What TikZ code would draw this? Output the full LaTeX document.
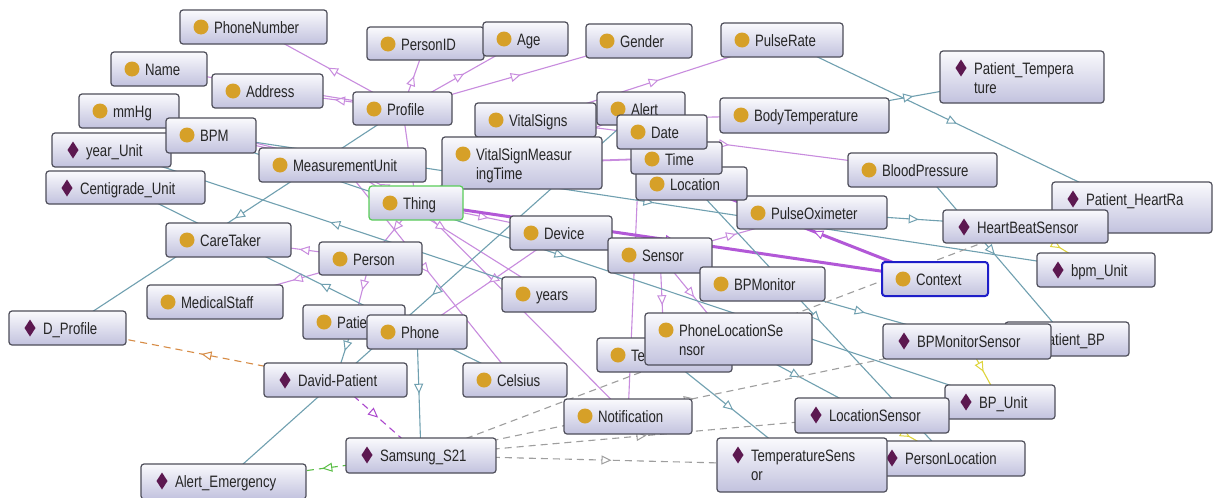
\documentclass[tikz,border=0pt]{standalone}
\usepackage{fontspec}
\setmainfont{Liberation Sans}[FakeStretch=0.8]
\usetikzlibrary{arrows.meta,decorations.markings,calc}

\definecolor{subcls}{RGB}{200,140,222}
\definecolor{indiv}{RGB}{112,160,176}
\definecolor{objprop}{RGB}{158,158,158}
\definecolor{boldedge}{RGB}{178,88,215}
\definecolor{clsdot}{RGB}{214,160,40}
\definecolor{inddot}{RGB}{92,24,80}
\definecolor{boxtop}{RGB}{250,250,253}
\definecolor{boxbot}{RGB}{194,194,222}
\definecolor{boxline}{RGB}{78,78,90}
\definecolor{propgreen}{RGB}{90,190,70}
\definecolor{proporange}{RGB}{215,140,70}
\definecolor{proppurple}{RGB}{170,70,205}
\definecolor{propyellow}{RGB}{222,212,60}
\definecolor{selblue}{RGB}{30,30,200}
\definecolor{thinggreen}{RGB}{90,205,90}

\pgfdeclarelayer{paper}
\pgfdeclarelayer{edges}
\pgfsetlayers{paper,edges,main}

% class box: [extra style] name, x1, y1, x2, y2, first line, second line
\newcommand\ogclass[8][]{%
  \node[ogbox,#1, minimum width={#5-#3}, minimum height={#6-#4}] (#2) at ({(#3+#5)/2},{(#4+#6)/2}) {};
  \fill[clsdot] ($(#2.north west)+(21,17)$) circle[radius=7.5pt];
  \node[lbl] at ($(#2.north west)+(34,23)$) {#7};
  \node[lbl] at ($(#2.north west)+(34,42)$) {#8};
}
% individual box: same arguments, diamond icon
\newcommand\ogindiv[8][]{%
  \node[ogbox,#1, minimum width={#5-#3}, minimum height={#6-#4}] (#2) at ({(#3+#5)/2},{(#4+#6)/2}) {};
  \fill[inddot] ($(#2.north west)+(21,17)$) ++(0,-8.5) -- ++(5.5,8.5) -- ++(-5.5,8.5) -- ++(-5.5,-8.5) -- cycle;
  \node[lbl] at ($(#2.north west)+(34,23)$) {#7};
  \node[lbl] at ($(#2.north west)+(34,42)$) {#8};
}
% connector between node centres, drawn behind the boxes
\newcommand\ogedge[3][isa]{\draw[#1] (#2.center) -- (#3.center);}

\begin{document}
\begin{tikzpicture}[x=1pt,y=-1pt,
  ogbox/.style={rectangle, rounded corners=3pt, draw=boxline, line width=1.2pt,
    top color=boxtop, bottom color=boxbot, inner sep=0pt, outer sep=0pt},
  lbl/.style={anchor=base west, inner sep=0pt, outer sep=0pt, text=black!85,
    font=\fontsize{16.5}{19}\selectfont},
  midarrow/.style={postaction={decorate}, decoration={markings,
    mark=at position 0.5 with {\pgfsetdash{}{0pt}\arrow{Triangle[length=10pt,width=9pt,fill=white,line width=1pt]}}}},
  isa/.style={draw=subcls, line width=1.1pt, midarrow},
  inst/.style={draw=indiv, line width=1.1pt, midarrow},
  prop/.style={draw=objprop, line width=1.1pt, dash pattern=on 7pt off 5pt, midarrow},
  boldisa/.style={draw=boldedge, line width=3pt, midarrow},
]
\useasboundingbox (0,0) rectangle (1213,498);
\begin{pgfonlayer}{paper}
  \fill[white] (0,0) rectangle (1213,498);
\end{pgfonlayer}

% ---- boxes, back to front ----
\ogclass{PhoneNumber}{180}{10}{327}{44}{PhoneNumber}{}
\ogclass{Name}{111}{52}{207}{86}{Name}{}
\ogclass{Address}{212}{74}{323}{108}{Address}{}
\ogclass{mmHg}{79}{94}{179}{128}{mmHg}{}
\ogindiv{yearUnit}{52}{133}{171}{167}{year\_Unit}{}
\ogclass{BPM}{166}{118}{256}{153}{BPM}{}
\ogclass{PersonID}{367}{27}{484}{60}{PersonID}{}
\ogclass{Age}{483}{22}{568}{56}{Age}{}
\ogclass{Profile}{353}{92}{452}{125}{Profile}{}
\ogclass{Gender}{586}{24}{692}{58}{Gender}{}
\ogclass{PulseRate}{721}{23}{843}{57}{PulseRate}{}
\ogindiv{PatientTemperature}{940}{51}{1104}{103}{Patient\_Tempera}{ture}
\ogclass{VitalSigns}{475}{103}{596}{137}{VitalSigns}{}
\ogclass{Alert}{597}{92}{685}{125}{Alert}{}
\ogclass{BodyTemperature}{720}{98}{889}{133}{BodyTemperature}{}
\ogclass{PulseOximeter}{737}{196}{887}{229}{PulseOximeter}{}
\ogclass{Location}{636}{167}{747}{200}{Location}{}
\ogclass{Time}{631}{142}{722}{174}{Time}{}
\ogclass{Date}{617}{115}{707}{149}{Date}{}
\ogclass{VSMT}{442}{137}{602}{189}{VitalSignMeasur}{ingTime}
\ogclass{BloodPressure}{848}{153}{997}{187}{BloodPressure}{}
\ogindiv{PatientHeartRate}{1052}{182}{1212}{233}{Patient\_HeartRa}{}
\ogindiv{HeartBeatSensor}{943}{210}{1108}{243}{HeartBeatSensor}{}
\ogindiv{CentigradeUnit}{46}{171}{205}{204}{Centigrade\_Unit}{}
\ogclass{MeasurementUnit}{259}{148}{426}{182}{MeasurementUnit}{}
\ogclass[draw=thinggreen]{Thing}{369}{186}{463}{220}{Thing}{}
\ogclass{Device}{510}{216}{612}{250}{Device}{}
\ogclass{Sensor}{608}{238}{712}{273}{Sensor}{}
\ogclass{BPMonitor}{700}{267}{825}{301}{BPMonitor}{}
\ogclass[draw=selblue,line width=2pt]{Context}{882}{262}{988}{296}{Context}{}
\ogindiv{bpmUnit}{1037}{253}{1155}{287}{bpm\_Unit}{}
\ogclass{CareTaker}{166}{223}{291}{257}{CareTaker}{}
\ogclass{Person}{319}{242}{422}{275}{Person}{}
\ogclass{MedicalStaff}{147}{285}{283}{319}{MedicalStaff}{}
\ogclass{years}{502}{277}{596}{312}{years}{}
\ogindiv{DProfile}{9}{311}{126}{345}{D\_Profile}{}
\ogclass{Patient}{303}{305}{405}{339}{Patient}{}
\ogclass{Phone}{367}{315}{467}{349}{Phone}{}
\ogclass{TempSensorCls}{597}{338}{732}{372}{Te}{}
\ogclass{PhoneLocSensor}{645}{313}{812}{365}{PhoneLocationSe}{nsor}
\ogindiv{PatientBP}{1005}{322}{1129}{356}{Patient\_BP}{}
\ogindiv{BPMonitorSensor}{883}{324}{1051}{359}{BPMonitorSensor}{}
\ogclass{Celsius}{463}{363}{567}{397}{Celsius}{}
\ogindiv{DavidPatient}{264}{363}{407}{397}{David-Patient}{}
\ogclass{Notification}{564}{399}{692}{434}{Notification}{}
\ogindiv{BPUnit}{945}{385}{1055}{419}{BP\_Unit}{}
\ogindiv{LocationSensor}{795}{398}{949}{433}{LocationSensor}{}
\ogindiv{PersonLocation}{871}{441}{1025}{476}{PersonLocation}{}
\ogindiv{TempSensorInd}{717}{438}{887}{492}{TemperatureSens}{or}
\ogindiv{Samsung}{346}{438}{496}{473}{Samsung\_S21}{}
\ogindiv{AlertEmergency}{141}{464}{306}{499}{Alert\_Emergency}{}

% ---- connectors ----
\begin{pgfonlayer}{edges}
  % subclass links
  \ogedge{Profile}{PhoneNumber}
  \ogedge{Profile}{Address}
  \ogedge{Profile}{Name}
  \ogedge{Profile}{PersonID}
  \ogedge{Profile}{Age}
  \ogedge{Profile}{Gender}
  \ogedge{VitalSigns}{PulseRate}
  \ogedge{VitalSigns}{BodyTemperature}
  \ogedge{VitalSigns}{BloodPressure}
  \ogedge{Thing}{Profile}
  \ogedge{Thing}{MeasurementUnit}
  \ogedge{Thing}{VitalSigns}
  \ogedge{Thing}{VSMT}
  \ogedge{Thing}{Alert}
  \ogedge{Thing}{Person}
  \ogedge{Thing}{Device}
  \ogedge{Thing}{Notification}
  \ogedge{MeasurementUnit}{BPM}
  \ogedge{MeasurementUnit}{mmHg}
  \ogedge{MeasurementUnit}{years}
  \ogedge{MeasurementUnit}{Celsius}
  \ogedge{Person}{CareTaker}
  \ogedge{Person}{MedicalStaff}
  \ogedge{Person}{Patient}
  \ogedge{Device}{Sensor}
  \ogedge{Device}{Phone}
  \ogedge{Sensor}{PulseOximeter}
  \ogedge{Sensor}{BPMonitor}
  \ogedge{Sensor}{PhoneLocSensor}
  \ogedge{Sensor}{TempSensorCls}
  \ogedge{Alert}{Notification}
  \ogedge[isa,line width=1.8pt]{VSMT}{Time}
  % links of the selected class
  \ogedge[boldisa]{Thing}{Context}
  \ogedge[boldisa]{Context}{Location}
  % individuals of classes
  \ogedge[inst]{PulseRate}{PatientHeartRate}
  \ogedge[inst]{BodyTemperature}{PatientTemperature}
  \ogedge[inst]{BloodPressure}{PatientBP}
  \ogedge[inst]{PulseOximeter}{HeartBeatSensor}
  \ogedge[inst]{BPM}{bpmUnit}
  \ogedge[inst]{mmHg}{BPUnit}
  \ogedge[inst]{years}{yearUnit}
  \ogedge[inst]{Celsius}{CentigradeUnit}
  \ogedge[inst]{Profile}{DProfile}
  \ogedge[inst]{Location}{PersonLocation}
  \ogedge[inst]{Patient}{DavidPatient}
  \ogedge[inst]{Phone}{Samsung}
  \ogedge[inst]{Alert}{AlertEmergency}
  \ogedge[inst]{BPMonitor}{BPMonitorSensor}
  \ogedge[inst]{TempSensorCls}{TempSensorInd}
  \ogedge[inst]{PhoneLocSensor}{LocationSensor}
  % object properties between individuals
  \ogedge[prop]{Samsung}{TempSensorInd}
  \ogedge[prop]{Samsung}{LocationSensor}
  \ogedge[prop]{Samsung}{BPMonitorSensor}
  \ogedge[prop]{Samsung}{HeartBeatSensor}
  \ogedge[prop,draw=propgreen]{Samsung}{AlertEmergency}
  \ogedge[prop,draw=proppurple]{DavidPatient}{Samsung}
  \ogedge[prop,draw=proporange]{DavidPatient}{DProfile}
  \ogedge[inst,draw=propyellow]{BPMonitorSensor}{BPUnit}
  \ogedge[inst,draw=propyellow]{HeartBeatSensor}{bpmUnit}
  \ogedge[inst,draw=propyellow]{LocationSensor}{PersonLocation}
\end{pgfonlayer}
\end{tikzpicture}
\end{document}
